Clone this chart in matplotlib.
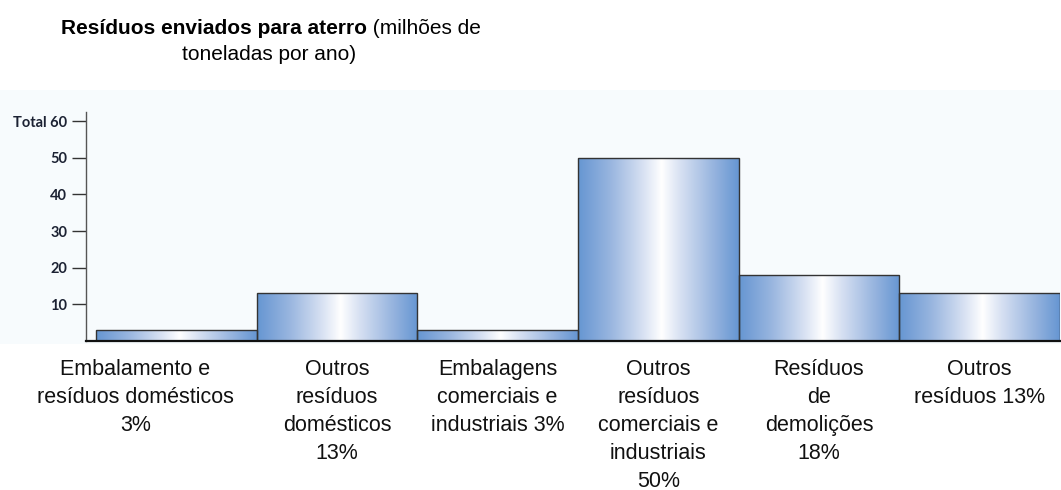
import numpy as np
import matplotlib.pyplot as plt
from matplotlib.colors import LinearSegmentedColormap
from matplotlib.patches import Rectangle

# Resíduos enviados para aterro, por categoria (milhões de toneladas por ano)
categorias = [
    "Embalamento e\nresíduos domésticos\n3%",
    "Outros\nresíduos\ndomésticos\n13%",
    "Embalagens\ncomerciais e\nindustriais 3%",
    "Outros\nresíduos\ncomerciais e\nindustriais\n50%",
    "Resíduos\nde\ndemolições\n18%",
    "Outros\nresíduos 13%",
]
valores = [3, 13, 3, 50, 18, 13]
ticks_y = [10, 20, 30, 40, 50, 60]
ticks_lbl = ["10", "20", "30", "40", "50", "Total 60"]

W, H = 1061, 490
fig = plt.figure(figsize=(W / 100, H / 100), dpi=100)
fig.patch.set_facecolor("white")

# painel de fundo muito claro atrás do gráfico
fig.patches.append(Rectangle((0, 1 - 344 / H), 1, (344 - 90) / H,
                             transform=fig.transFigure, facecolor="#f7fbfd",
                             edgecolor="none", zorder=-5))

ax_l, ax_r, ax_t, ax_b = 86, 1060, 112, 341
ax = fig.add_axes([ax_l / W, 1 - ax_b / H, (ax_r - ax_l) / W, (ax_b - ax_t) / H])
ax.set_zorder(2)
ax.patch.set_alpha(0)

# gradiente horizontal azul -> branco -> azul
cmap = LinearSegmentedColormap.from_list("barra", [
    (0.0, "#6696d2"), (0.2, "#98b5df"), (0.4, "#d6e0f2"),
    (0.52, "#ffffff"), (0.64, "#d6e0f2"), (0.84, "#98b5df"), (1.0, "#6696d2")])
grad = np.linspace(0, 1, 256).reshape(1, -1)

x = np.arange(len(valores))
bars = ax.bar(x, valores, width=1, align="edge", facecolor="none",
              edgecolor="#333333", linewidth=1.0, zorder=3)
for b in bars:
    bx, by = b.get_x(), b.get_y()
    im = ax.imshow(grad, cmap=cmap, aspect="auto", zorder=2,
                   extent=(bx, bx + b.get_width(), by, by + b.get_height()))
    im.set_clip_path(b)

ax.set_xlim(-0.062, len(valores))
ax.set_ylim(0, 62.5)

for s in ["top", "right"]:
    ax.spines[s].set_visible(False)
ax.spines["left"].set_color("#555555")
ax.spines["left"].set_linewidth(1.0)
ax.spines["bottom"].set_color("#111111")
ax.spines["bottom"].set_linewidth(1.6)
ax.spines["bottom"].set_zorder(4)

ax.set_xticks([])
ax.set_yticks(ticks_y)
ax.set_yticklabels(ticks_lbl, fontfamily="Lato", fontweight="bold",
                   fontsize=10.5, color="#1c2233")
ax.tick_params(axis="y", direction="out", length=10, width=1.0,
               color="#333333", pad=3.5)

# rótulos das categorias por baixo de cada barra
for i, (c, b) in enumerate(zip(categorias, bars)):
    dx = -41 if i == 0 else 0
    ax.annotate(c, xy=(b.get_x() + b.get_width() / 2, 0),
                xycoords="data", xytext=(dx, -18), textcoords="offset pixels",
                ha="center", va="top", fontsize=15.5, linespacing=1.43,
                fontfamily="Liberation Sans", color="#111111",
                annotation_clip=False)

# título com a parte em negrito
renderer = fig.canvas.get_renderer()
t1 = fig.text(0, 1 - 28 / H, "Resíduos enviados para aterro", fontsize=15,
              fontweight="bold", fontfamily="Liberation Sans", va="center")
t2 = fig.text(0, 1 - 28 / H, " (milhões de", fontsize=15,
              fontfamily="Liberation Sans", va="center")
w1 = t1.get_window_extent(renderer).width
w2 = t2.get_window_extent(renderer).width
start = 271 - (w1 + w2) / 2
t1.set_x(start / W)
t2.set_x((start + w1) / W)
fig.text(269 / W, 1 - 55 / H, "toneladas por ano)", fontsize=15,
         fontfamily="Liberation Sans", ha="center", va="center")

fig.savefig("out.png", dpi=100)
